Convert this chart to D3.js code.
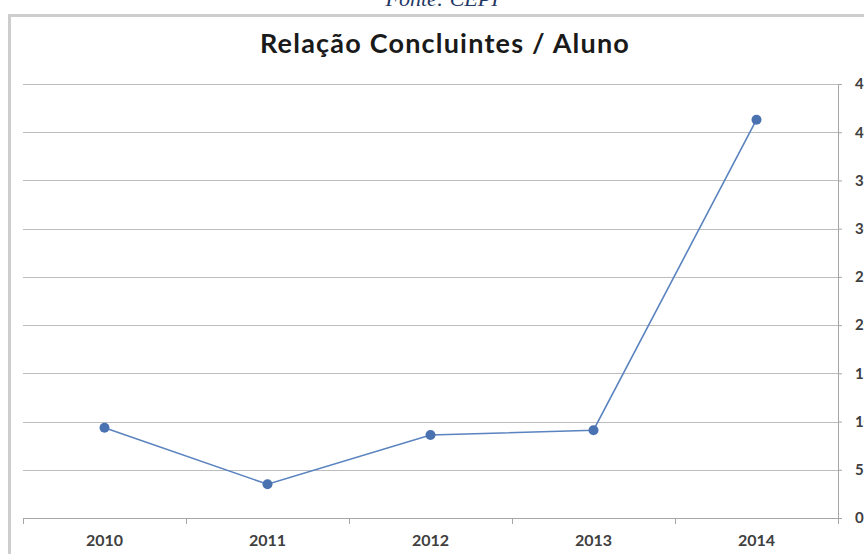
<!DOCTYPE html>
<html>
<head>
<meta charset="utf-8">
<script src="https://cdn.jsdelivr.net/npm/d3@7"></script>
<style>
  body { margin: 0; background: #fff; }
  svg { display: block; }
</style>
</head>
<body>
<div id="chart"></div>
<script>
// data
var years = ["2010", "2011", "2012", "2013", "2014"];
var ratio = [9.35, 3.5, 8.6, 9.1, 41.3];
var yTicks = [0, 5, 10, 15, 20, 25, 30, 35, 40, 45];
var chartTitle = "Relação Concluintes / Aluno";
var sourceNote = "Fonte: CEPI";

var W = 864, H = 554;
var plot = {left: 23, right: 838, top: 84, bottom: 518};

var svg = d3.select("#chart").append("svg")
    .attr("width", W)
    .attr("height", H);

// source note, cut at the top edge like the scan
svg.append("text")
    .attr("x", 442)
    .attr("y", 6)
    .attr("text-anchor", "middle")
    .style("font-family", "'Liberation Serif', 'DejaVu Serif', serif")
    .style("font-style", "italic")
    .style("font-size", "22px")
    .style("fill", "#1f3864")
    .text(sourceNote);

// chart frame
svg.append("rect")
    .attr("x", 9.5)
    .attr("y", 15.5)
    .attr("width", 900)
    .attr("height", 600)
    .style("fill", "#fff")
    .style("stroke", "#cdcdcd")
    .style("stroke-width", 3);

svg.append("text")
    .attr("x", 445)
    .attr("y", 53)
    .attr("text-anchor", "middle")
    .style("font-family", "Lato, 'Open Sans', sans-serif")
    .style("font-weight", "bold")
    .style("font-size", "27px")
    .style("letter-spacing", "1.2px")
    .style("fill", "#1a1a1a")
    .text(chartTitle);

var xScale = d3.scaleBand()
    .domain(years)
    .range([plot.left, plot.right]);

var yScale = d3.scaleLinear()
    .domain([0, 45])
    .range([plot.bottom, plot.top]);

// horizontal gridlines
svg.append("g")
    .attr("class", "grid")
    .selectAll("line")
    .data(yTicks.filter(function (d) { return d > 0; }))
    .enter().append("line")
    .attr("x1", plot.left)
    .attr("x2", plot.right)
    .attr("y1", function (d) { return Math.round(yScale(d)) + 0.5; })
    .attr("y2", function (d) { return Math.round(yScale(d)) + 0.5; })
    .style("stroke", "#bdbdbd")
    .style("stroke-width", 1.2);

// right value axis
var yAxis = d3.axisRight(yScale)
    .tickValues(yTicks)
    .tickSize(4)
    .tickPadding(13)
    .tickFormat(d3.format("d"));

var yg = svg.append("g")
    .attr("transform", "translate(" + plot.right + ",0)")
    .call(yAxis);

yg.select(".domain").style("stroke", "#a6a6a6");
yg.selectAll(".tick line").style("stroke", "#a6a6a6");
yg.selectAll(".tick text")
    .style("font-family", "Lato, 'Open Sans', sans-serif")
    .style("font-weight", "bold")
    .style("font-size", "15px")
    .style("fill", "#404040");

// category axis: labels centred, ticks on the boundaries
var xAxis = d3.axisBottom(xScale)
    .tickSize(0)
    .tickPadding(17);

var xg = svg.append("g")
    .attr("transform", "translate(0," + plot.bottom + ")")
    .call(xAxis);

xg.select(".domain").remove();
xg.selectAll(".tick text")
    .style("font-family", "Lato, 'Open Sans', sans-serif")
    .style("font-weight", "bold")
    .style("font-size", "16px")
    .style("fill", "#404040");

var bounds = years.map(function (d) { return xScale(d); }).concat([plot.right]);

xg.append("line")
    .attr("x1", plot.left)
    .attr("x2", plot.right)
    .attr("y1", 0.5)
    .attr("y2", 0.5)
    .style("stroke", "#a6a6a6");

xg.selectAll(".bound")
    .data(bounds)
    .enter().append("line")
    .attr("class", "bound")
    .attr("x1", function (d) { return Math.round(d) + 0.5; })
    .attr("x2", function (d) { return Math.round(d) + 0.5; })
    .attr("y1", 0)
    .attr("y2", 6)
    .style("stroke", "#a6a6a6");

// series
var line = d3.line()
    .x(function (d, i) { return xScale(years[i]) + xScale.bandwidth() / 2; })
    .y(function (d) { return yScale(d); });

svg.append("path")
    .datum(ratio)
    .attr("d", line)
    .style("fill", "none")
    .style("stroke", "#5a83bf")
    .style("stroke-width", 1.6);

svg.selectAll(".dot")
    .data(ratio)
    .enter().append("circle")
    .attr("class", "dot")
    .attr("cx", function (d, i) { return xScale(years[i]) + xScale.bandwidth() / 2; })
    .attr("cy", function (d) { return yScale(d); })
    .attr("r", 5)
    .style("fill", "#4a72b0");
</script>
</body>
</html>
